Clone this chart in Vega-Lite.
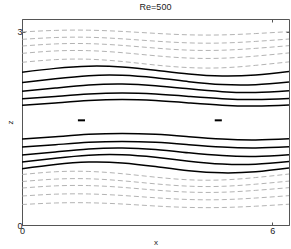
{
  "$schema": "https://vega.github.io/schema/vega-lite/v6.json",
  "width": 267,
  "height": 206,
  "autosize": {"type": "none"},
  "padding": {"left": 22, "top": 19, "right": 2, "bottom": 24},
  "background": "white",
  "title": {"text": "Re=500", "fontSize": 9, "font": "Liberation Sans", "fontWeight": "normal", "color": "#222", "offset": 7},
  "config": {
    "view": {"stroke": "#555", "strokeWidth": 1},
    "axis": {"grid": false, "domain": false, "labelFont": "Liberation Sans", "titleFont": "Liberation Sans", "labelFontSize": 9, "titleFontSize": 8, "titleFontWeight": "normal", "labelColor": "#222", "titleColor": "#222", "tickColor": "#555", "tickSize": -3, "labelFlush": false}
  },
  "datasets": {
    "lines": [
      {"x": 0.0, "D1": 2.999, "D2": 2.884, "D3": 2.780, "D4": 2.666, "D5": 2.527, "L1": 2.374, "L2": 2.212, "L3": 2.079, "L4": 1.962, "L5": 1.861, "LL1": 1.335, "LL2": 1.211, "LL3": 1.086, "LL4": 0.978, "LL5": 0.875, "LD1": 0.784, "LD2": 0.675, "LD3": 0.574, "LD4": 0.450, "LD5": 0.318},
      {"x": 0.8, "D1": 3.023, "D2": 2.912, "D3": 2.813, "D4": 2.704, "D5": 2.569, "L1": 2.433, "L2": 2.272, "L3": 2.128, "L4": 1.998, "L5": 1.897, "LL1": 1.371, "LL2": 1.247, "LL3": 1.135, "LL4": 1.038, "LL5": 0.941, "LD1": 0.827, "LD2": 0.713, "LD3": 0.608, "LD4": 0.479, "LD5": 0.342},
      {"x": 1.6, "D1": 3.026, "D2": 2.916, "D3": 2.817, "D4": 2.708, "D5": 2.575, "L1": 2.467, "L2": 2.320, "L3": 2.174, "L4": 2.034, "L5": 1.933, "LL1": 1.408, "LL2": 1.284, "LL3": 1.181, "LL4": 1.085, "LL5": 0.978, "LD1": 0.832, "LD2": 0.718, "LD3": 0.612, "LD4": 0.482, "LD5": 0.345},
      {"x": 2.4, "D1": 3.007, "D2": 2.892, "D3": 2.790, "D4": 2.677, "D5": 2.540, "L1": 2.455, "L2": 2.326, "L3": 2.189, "L4": 2.050, "L5": 1.949, "LL1": 1.423, "LL2": 1.299, "LL3": 1.196, "LL4": 1.091, "LL5": 0.965, "LD1": 0.797, "LD2": 0.687, "LD3": 0.585, "LD4": 0.459, "LD5": 0.326},
      {"x": 3.2, "D1": 2.977, "D2": 2.856, "D3": 2.748, "D4": 2.629, "D5": 2.485, "L1": 2.405, "L2": 2.287, "L3": 2.164, "L4": 2.034, "L5": 1.933, "LL1": 1.408, "LL2": 1.284, "LL3": 1.171, "LL4": 1.052, "LL5": 0.909, "LD1": 0.743, "LD2": 0.639, "LD3": 0.542, "LD4": 0.423, "LD5": 0.295},
      {"x": 4.0, "D1": 2.954, "D2": 2.829, "D3": 2.716, "D4": 2.593, "D5": 2.445, "L1": 2.346, "L2": 2.227, "L3": 2.115, "L4": 1.998, "L5": 1.897, "LL1": 1.371, "LL2": 1.247, "LL3": 1.122, "LL4": 0.992, "LL5": 0.844, "LD1": 0.702, "LD2": 0.603, "LD3": 0.511, "LD4": 0.396, "LD5": 0.273},
      {"x": 4.8, "D1": 2.953, "D2": 2.827, "D3": 2.715, "D4": 2.591, "D5": 2.442, "L1": 2.314, "L2": 2.181, "L3": 2.071, "L4": 1.962, "L5": 1.861, "LL1": 1.335, "LL2": 1.211, "LL3": 1.078, "LL4": 0.947, "LL5": 0.810, "LD1": 0.700, "LD2": 0.601, "LD3": 0.509, "LD4": 0.394, "LD5": 0.272},
      {"x": 5.6, "D1": 2.974, "D2": 2.852, "D3": 2.744, "D4": 2.624, "D5": 2.480, "L1": 2.330, "L2": 2.179, "L3": 2.058, "L4": 1.949, "L5": 1.848, "LL1": 1.322, "LL2": 1.198, "LL3": 1.065, "LL4": 0.944, "LL5": 0.827, "LD1": 0.737, "LD2": 0.634, "LD3": 0.538, "LD4": 0.419, "LD5": 0.292},
      {"x": 6.4, "D1": 3.004, "D2": 2.889, "D3": 2.786, "D4": 2.673, "D5": 2.534, "L1": 2.383, "L2": 2.220, "L3": 2.085, "L4": 1.966, "L5": 1.865, "LL1": 1.340, "LL2": 1.215, "LL3": 1.093, "LL4": 0.986, "LL5": 0.885, "LD1": 0.792, "LD2": 0.682, "LD3": 0.580, "LD4": 0.456, "LD5": 0.323}
    ],
    "marks": [
      {"seg": "a", "x": 1.34, "z": 1.626},
      {"seg": "a", "x": 1.51, "z": 1.626},
      {"seg": "b", "x": 4.62, "z": 1.626},
      {"seg": "b", "x": 4.79, "z": 1.626}
    ]
  },
  "layer": [
    {
      "data": {"name": "lines"},
      "transform": [{"fold": ["D1", "D2", "D3", "D4", "D5", "LD1", "LD2", "LD3", "LD4", "LD5"], "as": ["line", "z"]}],
      "mark": {"type": "line", "color": "#a0a0a0", "strokeWidth": 0.8, "strokeDash": [5, 3], "interpolate": "natural", "clip": true},
      "encoding": {
        "x": {"field": "x", "type": "quantitative", "scale": {"domain": [0, 6.4], "nice": false, "zero": false}, "axis": {"values": [0, 6], "title": "x", "labelPadding": 4, "titlePadding": 3}},
        "y": {"field": "z", "type": "quantitative", "scale": {"domain": [0, 3.2], "nice": false, "zero": false}, "axis": {"values": [0, 3], "title": "z", "labelPadding": 3, "titlePadding": 2}},
        "detail": {"field": "line"}
      }
    },
    {
      "data": {"name": "lines"},
      "transform": [{"fold": ["L1", "L2", "L3", "L4", "L5", "LL1", "LL2", "LL3", "LL4", "LL5"], "as": ["line", "z"]}],
      "mark": {"type": "line", "color": "black", "strokeWidth": 1.5, "interpolate": "natural", "clip": true},
      "encoding": {
        "x": {"field": "x", "type": "quantitative", "axis": {"orient": "top", "values": [0, 6], "labels": false, "title": null}},
        "y": {"field": "z", "type": "quantitative", "axis": {"orient": "right", "values": [0, 3], "labels": false, "title": null}},
        "detail": {"field": "line"}
      }
    },
    {
      "data": {"name": "marks"},
      "mark": {"type": "line", "color": "black", "strokeWidth": 2},
      "encoding": {
        "x": {"field": "x", "type": "quantitative", "axis": null},
        "y": {"field": "z", "type": "quantitative", "axis": null},
        "detail": {"field": "seg"}
      }
    }
  ],
  "resolve": {"axis": {"x": "independent", "y": "independent"}}
}
